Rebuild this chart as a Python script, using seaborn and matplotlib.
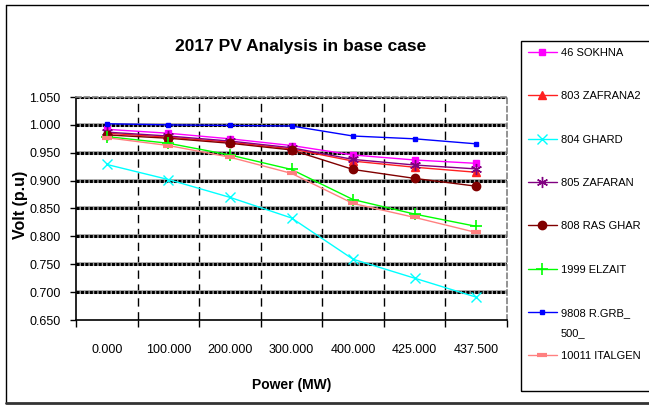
import matplotlib
matplotlib.use("Agg")
import matplotlib.pyplot as plt
import seaborn as sns
import numpy as np
import pandas as pd
from matplotlib.patches import Rectangle
from matplotlib.lines import Line2D

# Data
power = ['0.000', '100.000', '200.000', '300.000', '400.000', '425.000', '437.500']
sokhna = [0.992, 0.985, 0.975, 0.963, 0.946, 0.937, 0.931]
zafrana2 = [0.985, 0.978, 0.969, 0.957, 0.935, 0.924, 0.915]
ghard = [0.929, 0.902, 0.870, 0.833, 0.759, 0.725, 0.691]
zafaran = [0.987, 0.980, 0.971, 0.959, 0.938, 0.928, 0.921]
rasghar = [0.982, 0.976, 0.967, 0.955, 0.920, 0.904, 0.890]
elzait = [0.979, 0.967, 0.946, 0.920, 0.866, 0.840, 0.818]
rgrb = [1.002, 1.000, 0.999, 0.998, 0.980, 0.975, 0.966]
italgen = [0.977, 0.963, 0.942, 0.913, 0.859, 0.834, 0.807]

names = ['46 SOKHNA', '803 ZAFRANA2', '804 GHARD', '805 ZAFARAN',
         '808 RAS GHAR', '1999 ELZAIT', '9808 R.GRB_\n500_', '10011 ITALGEN']
series = [sokhna, zafrana2, ghard, zafaran, rasghar, elzait, rgrb, italgen]

# style per series (line color, marker, marker size, marker edge width)
styles = [
    dict(color='#FF00FF', marker='s', markersize=5, mew=1),
    dict(color='#FF2020', marker='^', markersize=6, mew=1),
    dict(color='#00FFFF', marker='x', markersize=7, mew=1),
    dict(color='#800080', marker=(6, 2, 0), markersize=8, mew=1),
    dict(color='#800000', marker='o', markersize=6, mew=1),
    dict(color='#00FF00', marker='+', markersize=8, mew=1.2),
    dict(color='#0000FF', marker='s', markersize=2.5, mew=1),
    dict(color='#FF8080', marker='_', markersize=7, mew=3),
]

sns.set_style("white")
plt.rcParams['font.family'] = ['Liberation Sans', 'DejaVu Sans']
plt.rcParams['text.color'] = 'black'
plt.rcParams['xtick.color'] = 'black'
plt.rcParams['ytick.color'] = 'black'

fig = plt.figure(figsize=(6.49, 4.08), dpi=100)
ax = fig.add_axes([76 / 649, 1 - 320 / 408, 431 / 649, 223 / 408])

yticks = np.arange(0.65, 1.0501, 0.05)

# horizontal grid: grey underlay + black square dots
for yv in yticks[1:]:
    ax.axhline(yv, color='#A0A0A0', lw=2.6, zorder=0.5)
    ax.axhline(yv, color='black', lw=2.2, ls=(0, (1, 0.45)), zorder=0.6)

for name, vals, st in zip(names, series, styles):
    sns.lineplot(x=power, y=vals, ax=ax, sort=False, lw=1, label=name,
                 mec=st['color'], mfc=st['color'], legend=False, **st)

ax.set_xlim(-0.5, 6.5)
ax.set_ylim(0.65, 1.05)
ax.set_yticks(yticks)
ax.set_yticklabels([f'{v:.3f}' for v in yticks], fontsize=9)
ax.set_xticks(range(len(power)))
ax.set_xticklabels(power, fontsize=9)
ax.set_xticks(np.arange(-0.5, 6.51, 1), minor=True)
ax.tick_params(axis='x', which='major', length=0, pad=17)
ax.tick_params(axis='x', which='minor', length=5, width=1, color='black', direction='out', bottom=True)
ax.tick_params(axis='y', length=4, width=1, color='black', direction='out', pad=7, left=True)
ax.set_xlabel('')
ax.set_ylabel('')

# vertical dashed lines between categories
for xv in np.arange(0.5, 5.51, 1):
    ax.axvline(xv, color='black', lw=1, ls=(0, (6, 4)), zorder=0.4)

for s in ['left', 'bottom']:
    ax.spines[s].set_color('black')
    ax.spines[s].set_linewidth(1.2)
for s in ['top', 'right']:
    ax.spines[s].set_color('#808080')
    ax.spines[s].set_linewidth(1.2)
    ax.spines[s].set_linestyle((0, (3, 2)))

# titles and labels
fig.text(301 / 649, 1 - 47 / 408, '2017 PV Analysis in base case', ha='center', va='center',
         fontsize=12.5, fontweight='bold')
fig.text(292 / 649, 1 - 385 / 408, 'Power (MW)', ha='center', va='center',
         fontsize=10, fontweight='bold')
fig.text(20 / 649, 1 - 205 / 408, 'Volt (p.u)', ha='center', va='center', rotation=90,
         fontsize=11.5, fontweight='bold')

# legend: first seven entries, the wrapped second line, then the last entry
handles = [Line2D([], [], lw=1, mec=st['color'], mfc=st['color'], **st) for st in styles]
first_lines = [n.split('\n')[0] for n in names]
leg_kw = dict(loc='upper left', frameon=False, fontsize=8, handlelength=2.6,
              handletextpad=0.35, borderpad=0, borderaxespad=0)
fig.legend(handles[:7], first_lines[:7], bbox_to_anchor=(528 / 649, 1 - 48 / 408),
           labelspacing=3.0, **leg_kw)
fig.text(561 / 649, 1 - 333 / 408, names[6].split('\n')[1], ha='left', va='center', fontsize=8)
fig.legend(handles[7:], first_lines[7:], bbox_to_anchor=(528 / 649, 1 - 351 / 408), **leg_kw)
fig.add_artist(Rectangle((521 / 649, 1 - 391 / 408), 140 / 649, 350 / 408,
                         transform=fig.transFigure, fill=False, ec='black', lw=1))

# outer chart frame
fig.add_artist(Line2D([6 / 649, 1], [1 - 5 / 408, 1 - 5 / 408], transform=fig.transFigure, color='black', lw=1))
fig.add_artist(Line2D([6 / 649, 6 / 649], [1 - 5 / 408, 1 - 403 / 408], transform=fig.transFigure, color='black', lw=1))
fig.add_artist(Line2D([6 / 649, 1], [1 - 403 / 408, 1 - 403 / 408], transform=fig.transFigure, color='#333333', lw=2))

fig.savefig('out.png', dpi=100)
